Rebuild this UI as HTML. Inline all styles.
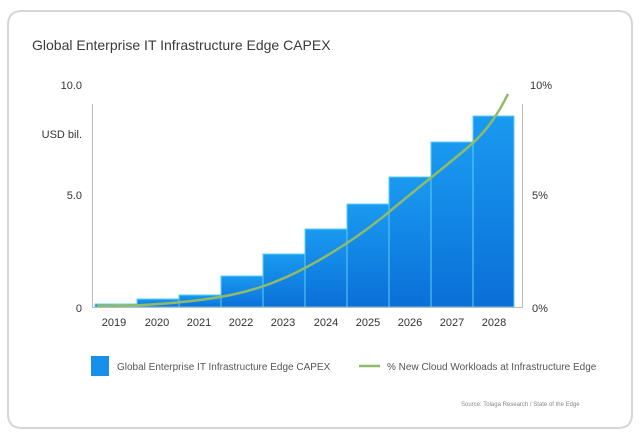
<!DOCTYPE html>
<html><head><style>
html,body{margin:0;padding:0;width:640px;height:438px;background:#fff;overflow:hidden;font-family:"Liberation Sans",sans-serif}
svg{display:block}
</style></head><body>
<svg width="640" height="438" xmlns="http://www.w3.org/2000/svg" font-family="Liberation Sans, sans-serif">
<defs><linearGradient id="g" x1="0" y1="0" x2="0" y2="1"><stop offset="0" stop-color="#1a9af0"/><stop offset="1" stop-color="#0a6fd8"/></linearGradient></defs>
<path d="M22 11 H618 Q632 11 632 25 V414 Q632 428 618 428 H22 Q8 428 8 414 V25 Q8 11 22 11 Z" fill="#fff" stroke="#d6d6d6" stroke-width="2"/>
<text x="32" y="50" font-size="14" fill="#3a3a3a">Global Enterprise IT Infrastructure Edge CAPEX</text>
<g font-size="11" fill="#333">
<text x="82" y="89" text-anchor="end">10.0</text>
<text x="82" y="138" text-anchor="end">USD bil.</text>
<text x="82" y="199" text-anchor="end">5.0</text>
<text x="82" y="312" text-anchor="end">0</text>
<text x="530" y="89">10%</text>
<text x="532" y="199">5%</text>
<text x="532" y="312">0%</text>
</g>
<line x1="92.5" y1="104" x2="92.5" y2="308" stroke="#bbb"/>
<line x1="522.5" y1="104" x2="522.5" y2="308" stroke="#bbb"/>
<g fill="url(#g)" stroke="#5ad0f5" stroke-width="1">
<rect x="95" y="304" width="42" height="3"/>
<rect x="137" y="299" width="42" height="8"/>
<rect x="179" y="295" width="42" height="12"/>
<rect x="221" y="276" width="42" height="31"/>
<rect x="263" y="254" width="42" height="53"/>
<rect x="305" y="229" width="42" height="78"/>
<rect x="347" y="204" width="42" height="103"/>
<rect x="389" y="177" width="42" height="130"/>
<rect x="431" y="142" width="42" height="165"/>
<rect x="473" y="116" width="41" height="191"/>
</g>
<line x1="92" y1="307.5" x2="522" y2="307.5" stroke="#bbb"/>
<path d="M97 306 C150 306 190 302 220 297 C255 291 280 281 305 268 C335 252 365 232 389 212 C420 186 450 163 473 143 C490 127 500 110 508 94" fill="none" stroke="#8fba6a" stroke-width="2.5"/>
<g font-size="11" fill="#333" text-anchor="middle">
<text x="114" y="326">2019</text><text x="157" y="326">2020</text><text x="199" y="326">2021</text><text x="241" y="326">2022</text><text x="283" y="326">2023</text><text x="326" y="326">2024</text><text x="368" y="326">2025</text><text x="410" y="326">2026</text><text x="452" y="326">2027</text><text x="494" y="326">2028</text>
</g>
<rect x="91" y="356" width="18" height="20" fill="#1790ec"/>
<text x="117" y="370" font-size="10" fill="#555">Global Enterprise IT Infrastructure Edge CAPEX</text>
<line x1="359" y1="366" x2="380" y2="366" stroke="#8fba6a" stroke-width="2.5"/>
<text x="387" y="370" font-size="10" fill="#555">% New Cloud Workloads at Infrastructure Edge</text>
<text x="461" y="406" font-size="6" fill="#888">Source: Tolaga Research / State of the Edge</text>
</svg>
</body></html>
